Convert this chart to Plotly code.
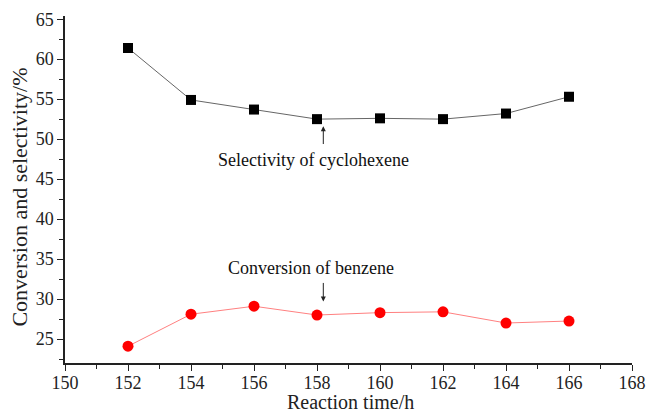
import plotly.graph_objects as go

# Reaction time (h) and measured performance
time_h = [152, 154, 156, 158, 160, 162, 164, 166]
selectivity = [61.4, 54.9, 53.7, 52.5, 52.6, 52.5, 53.2, 55.3]
conversion = [24.1, 28.1, 29.1, 28.0, 28.3, 28.4, 27.0, 27.25]

x_ticks = [150, 152, 154, 156, 158, 160, 162, 164, 166, 168]
y_ticks = [25, 30, 35, 40, 45, 50, 55, 60, 65]

serif = "Liberation Serif, Times New Roman, serif"

fig = go.Figure()

fig.add_trace(go.Scatter(
    x=time_h, y=selectivity, mode="lines+markers",
    line=dict(color="#666666", width=1),
    marker=dict(symbol="square", size=10, color="black"),
    name="Selectivity of cyclohexene", showlegend=False,
))
fig.add_trace(go.Scatter(
    x=time_h, y=conversion, mode="lines+markers",
    line=dict(color="#ff8080", width=1),
    marker=dict(symbol="circle", size=11, color="#ff0000"),
    name="Conversion of benzene", showlegend=False,
))

axis_common = dict(
    showgrid=False, zeroline=False, showline=True, automargin=False,
    linecolor="#222222", linewidth=1.5,
    ticks="outside", ticklen=6, tickwidth=1.3, tickcolor="#222222",
    tickfont=dict(family=serif, size=18, color="#222222"),
    minor=dict(ticks="outside", ticklen=4, tickwidth=1.2, tickcolor="#222222"),
)

fig.update_xaxes(range=[150, 168], tickvals=x_ticks, minor_dtick=1, ticklabelstandoff=-3, **axis_common)
fig.update_yaxes(range=[22, 65.4], tickvals=y_ticks, minor_dtick=2.5, minor_tick0=22.5, **axis_common)

# Axis titles
fig.add_annotation(x=0.503, y=-0.113, xref="paper", yref="paper", xanchor="center", yanchor="middle",
                   text="Reaction time/h", showarrow=False,
                   font=dict(family=serif, size=20, color="#222222"))
fig.add_annotation(x=-0.081, y=0.477, xref="paper", yref="paper", xanchor="center", yanchor="middle",
                   text="Conversion and selectivity/%", textangle=-90, showarrow=False,
                   font=dict(family=serif, size=22, color="#222222"))

# Labels with pointing arrows
fig.add_annotation(x=157.9, y=47.4, text="Selectivity of cyclohexene", showarrow=False,
                   font=dict(family=serif, size=18, color="#111111"))
fig.add_annotation(x=158.2, y=51.6, ax=158.2, ay=49.2, axref="x", ayref="y", text="",
                   showarrow=True, arrowhead=2, arrowsize=1, arrowwidth=1, arrowcolor="#222222")
fig.add_annotation(x=157.8, y=33.9, text="Conversion of benzene", showarrow=False,
                   font=dict(family=serif, size=18, color="#111111"))
fig.add_annotation(x=158.2, y=29.7, ax=158.2, ay=32.2, axref="x", ayref="y", text="",
                   showarrow=True, arrowhead=2, arrowsize=1, arrowwidth=1, arrowcolor="#222222")

fig.update_layout(
    width=648, height=412,
    margin=dict(l=65, r=16, t=16, b=49),
    plot_bgcolor="white", paper_bgcolor="white",
)

fig.write_html("out.html")
